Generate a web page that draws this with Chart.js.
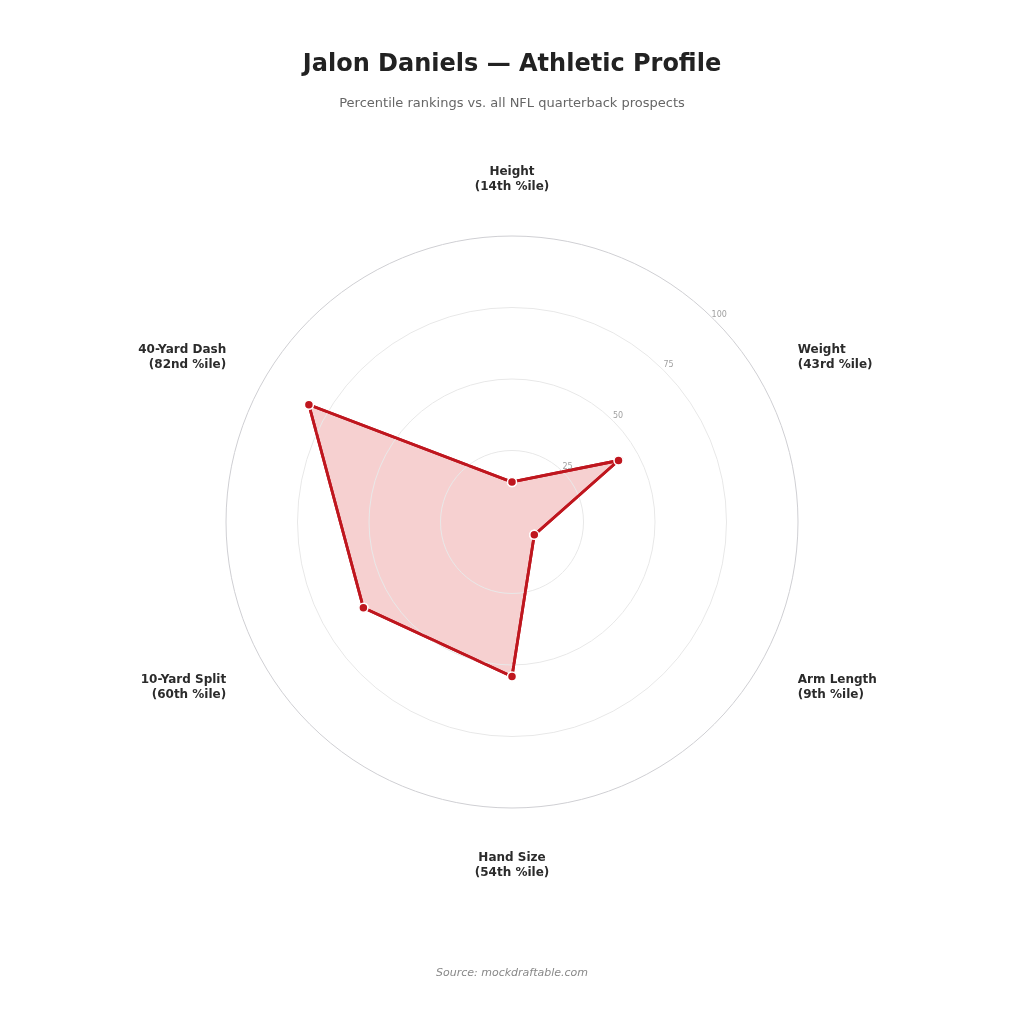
<!DOCTYPE html>
<html>
<head>
<meta charset="utf-8">
<script src="https://cdn.jsdelivr.net/npm/chart.js@4.4.1/dist/chart.umd.min.js"></script>
<style>
  html, body { margin: 0; padding: 0; background: #fff; }
  #wrap { position: relative; width: 1024px; height: 1024px; font-family: "DejaVu Sans", sans-serif; }
  #wrap canvas { position: absolute; left: 0; top: 0; }
  .title { position: absolute; left: 0; width: 1024px; top: 49px; text-align: center; font-size: 24px; font-weight: bold; color: #222; }
  .subtitle { position: absolute; left: 0; width: 1024px; top: 95px; text-align: center; font-size: 13px; color: #666; }
  .source { position: absolute; left: 0; width: 1024px; top: 966px; text-align: center; font-size: 11px; font-style: italic; color: #888; }
</style>
</head>
<body>
<div id="wrap">
  <canvas id="radarChart" width="1024" height="1024"></canvas>
  <div class="title">Jalon Daniels — Athletic Profile</div>
  <div class="subtitle">Percentile rankings vs. all NFL quarterback prospects</div>
  <div class="source">Source: mockdraftable.com</div>
</div>

<script>
// ---------------- data ----------------
const categories = ["Height", "Weight", "Arm Length", "Hand Size", "10-Yard Split", "40-Yard Dash"];
const percentiles = [14, 43, 9, 54, 60, 82];
const tickValues = [25, 50, 75, 100];

const LINE_COLOR = "#bf161e";
const FILL_COLOR = "rgba(214, 40, 40, 0.22)";
const FONT = "'DejaVu Sans', sans-serif";

function ordinal(n) {
  const s = n % 100;
  if (s >= 11 && s <= 13) return n + "th";
  if (n % 10 === 1) return n + "st";
  if (n % 10 === 2) return n + "nd";
  if (n % 10 === 3) return n + "rd";
  return n + "th";
}

// grid sits above the fill (z: 1), so put the outline + points back on top of it
const redrawOutlinePlugin = {
  id: "redrawOutline",
  afterDraw(chart) {
    const meta = chart.getDatasetMeta(0);
    const ctx = chart.ctx;
    meta.dataset.draw(ctx, chart.chartArea);
    meta.data.forEach((pt) => pt.draw(ctx, chart.chartArea));
  },
};

// point labels: two lines, centred vertically on the side axes
const axisLabelsPlugin = {
  id: "axisLabels",
  afterDraw(chart) {
    const scale = chart.scales.r;
    const ctx = chart.ctx;
    const lineH = 15;
    ctx.save();
    ctx.font = "bold 12px " + FONT;
    ctx.fillStyle = "#2b2b2b";
    ctx.textBaseline = "middle";
    categories.forEach((name, i) => {
      const deg = Math.round((360 / categories.length) * i);
      const vertical = deg === 0 || deg === 180;
      const pos = scale.getPointPosition(i, scale.drawingArea + (vertical ? 42 : 44));
      const lines = [name, "(" + ordinal(percentiles[i]) + " %ile)"];
      let y0;
      if (deg === 0) {
        ctx.textAlign = "center";
        y0 = pos.y - lines.length * lineH + lineH / 2;
      } else if (deg === 180) {
        ctx.textAlign = "center";
        y0 = pos.y + lineH / 2;
      } else {
        ctx.textAlign = deg < 180 ? "left" : "right";
        y0 = pos.y - ((lines.length - 1) * lineH) / 2;
      }
      lines.forEach((t, k) => ctx.fillText(t, pos.x, y0 + k * lineH));
    });
    ctx.restore();
  },
};

// tick labels along the 45° diagonal
const tickLabelsPlugin = {
  id: "tickLabels",
  afterDraw(chart) {
    const scale = chart.scales.r;
    const ctx = chart.ctx;
    ctx.save();
    ctx.font = "8px " + FONT;
    ctx.fillStyle = "#a0a0a0";
    ctx.textAlign = "center";
    ctx.textBaseline = "middle";
    tickValues.forEach((v) => {
      const pos = scale.getPointPosition(0, scale.getDistanceFromCenterForValue(v) + 7, Math.PI / 4);
      ctx.fillText(String(v), pos.x, pos.y);
    });
    ctx.restore();
  },
};

new Chart(document.getElementById("radarChart").getContext("2d"), {
  type: "radar",
  data: {
    labels: categories,
    datasets: [
      {
        label: "Percentile",
        data: percentiles,
        borderColor: LINE_COLOR,
        backgroundColor: FILL_COLOR,
        borderWidth: 2.8,
        fill: true,
        pointRadius: 4.5,
        pointBorderWidth: 1.5,
        pointBorderColor: "#ffffff",
        pointBackgroundColor: LINE_COLOR,
      },
    ],
  },
  options: {
    responsive: false,
    animation: false,
    layout: { padding: { top: 236, bottom: 216, left: 226, right: 226 } },
    plugins: { legend: { display: false }, tooltip: { enabled: false } },
    scales: {
      r: {
        min: 0,
        max: 100,
        ticks: { stepSize: 25, display: false },
        angleLines: { display: false },
        pointLabels: { display: false },
        grid: {
          circular: true,
          z: 1,
          lineWidth: 1,
          color: (c) => (c.tick && c.tick.value === 100 ? "#cfcfd3" : "#e8e8e8"),
        },
      },
    },
  },
  plugins: [redrawOutlinePlugin, axisLabelsPlugin, tickLabelsPlugin],
});
</script>
</body>
</html>
